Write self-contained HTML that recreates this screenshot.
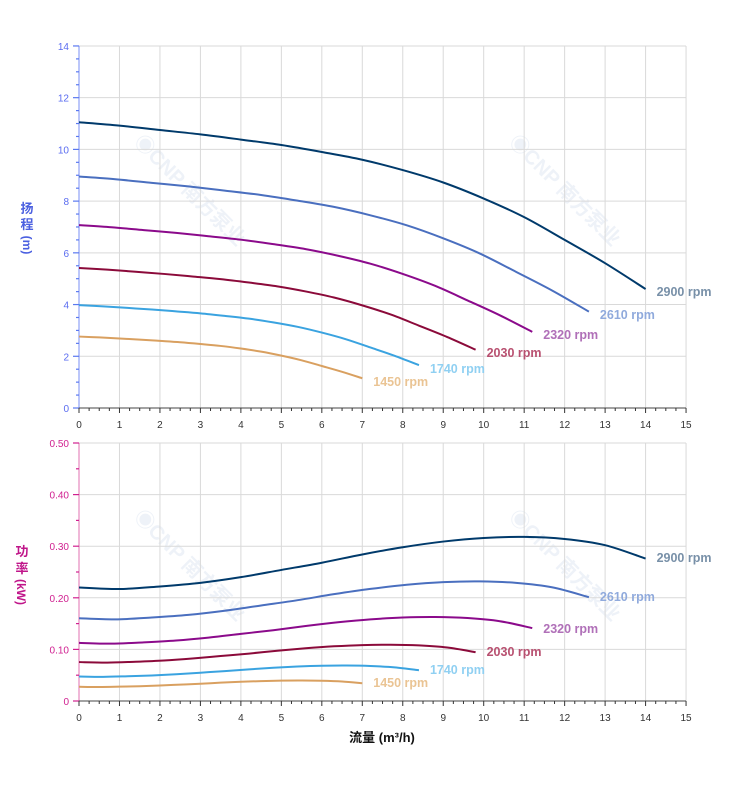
<!DOCTYPE html>
<html><head><meta charset="utf-8"><style>
body{margin:0;background:#fff;}
svg{display:block;font-family:"Liberation Sans","Noto Sans CJK SC",sans-serif;}
</style></head><body>
<svg id="s" width="752" height="797" xmlns="http://www.w3.org/2000/svg"></svg>
<script>
const s=document.getElementById('s');let h='';
const X=q=>79+40.47*q, Y=v=>408-25.86*v, P=p=>701-516*p;
// watermarks
[[185,195],[560,195],[185,570],[560,570]].forEach(([x,y])=>h+=`<text transform="translate(${x},${y}) rotate(45)" font-size="20" font-weight="bold" fill="#eef2f8" text-anchor="middle">◉CNP 南方泵业</text>`);
// grid
for(let i=0;i<=15;i++){h+=`<line x1="${X(i)}" y1="46" x2="${X(i)}" y2="408" stroke="#d9d9d9"/>`;h+=`<line x1="${X(i)}" y1="443" x2="${X(i)}" y2="701" stroke="#d9d9d9"/>`;}
for(let v=0;v<=14;v+=2)h+=`<line x1="79" y1="${Y(v)}" x2="686" y2="${Y(v)}" stroke="#d9d9d9"/>`;
for(let v=0;v<=5;v++)h+=`<line x1="79" y1="${P(v/10)}" x2="686" y2="${P(v/10)}" stroke="#d9d9d9"/>`;
// y axes
h+=`<line x1="79" y1="46" x2="79" y2="408" stroke="#7a8ff5"/>`;
for(let v=0;v<=14;v+=0.5){const big=v%2==0;h+=`<line x1="${big?73:76}" y1="${Y(v)}" x2="79" y2="${Y(v)}" stroke="#5a78f0" stroke-width="1.2"/>`;if(big)h+=`<text x="69" y="${Y(v)+4}" font-size="10" fill="#5a6cf0" text-anchor="end">${v}</text>`;}
h+=`<line x1="79" y1="443" x2="79" y2="701" stroke="#e070b0"/>`;
for(let i=0;i<=10;i++){const v=i/20,big=i%2==0;h+=`<line x1="${big?73:76}" y1="${P(v)}" x2="79" y2="${P(v)}" stroke="#d02090" stroke-width="1.2"/>`;if(big)h+=`<text x="69" y="${P(v)+4}" font-size="10" fill="#d02090" text-anchor="end">${i==0?'0':v.toFixed(2)}</text>`;}
// x axes
[408,701].forEach(y=>{h+=`<line x1="79" y1="${y}" x2="686" y2="${y}" stroke="#444"/>`;for(let i=0;i<=60;i++){const q=i/4;h+=`<line x1="${X(q)}" y1="${y}" x2="${X(q)}" y2="${y+(i%4==0?5:3)}" stroke="#333"/>`;}
for(let i=0;i<=15;i++)h+=`<text x="${X(i)}" y="${y+20}" font-size="10" fill="#333" text-anchor="middle">${i}</text>`;});
// axis titles
h+=`<text x="27" y="213" font-size="13" font-weight="bold" fill="#4a5fe0" text-anchor="middle">扬</text><text x="27" y="229" font-size="13" font-weight="bold" fill="#4a5fe0" text-anchor="middle">程</text><text transform="translate(23,245) rotate(90)" font-size="12" font-weight="bold" fill="#4a5fe0" text-anchor="middle">(m)</text>`;
h+=`<text x="22" y="556" font-size="13" font-weight="bold" fill="#c0168a" text-anchor="middle">功</text><text x="22" y="573" font-size="13" font-weight="bold" fill="#c0168a" text-anchor="middle">率</text><text transform="translate(17,592) rotate(90)" font-size="12" font-weight="bold" fill="#c0168a" text-anchor="middle">(kW)</text>`;
h+=`<text x="382" y="742" font-size="13" font-weight="bold" fill="#111" text-anchor="middle">流量 (m³/h)</text>`;
// curves
const H=[[0,11.05],[1,10.92],[2,10.75],[3,10.58],[4,10.38],[5,10.17],[6,9.9],[7,9.6],[8,9.2],[9,8.72],[10,8.1],[11,7.38],[12,6.5],[13,5.6],[14,4.6]];
const W=[[0,0.22],[1,0.217],[2,0.222],[3,0.229],[4,0.24],[5,0.254],[6,0.268],[7,0.284],[8,0.298],[9,0.309],[10,0.316],[11,0.318],[12,0.314],[13,0.302],[14,0.276]];
const sp=[[2900,'#003a6b','#7890a8'],[2610,'#4a6fbf','#90aadc'],[2320,'#8b0a8b','#b070b8'],[2030,'#8b0a3a','#b85070'],[1740,'#3aa3e0','#90d0f2'],[1450,'#d9a060','#eac494']];
const path=(pts)=>{let d='M'+pts[0][0]+' '+pts[0][1];for(let i=0;i<pts.length-1;i++){const p0=pts[i-1]||pts[i],p1=pts[i],p2=pts[i+1],p3=pts[i+2]||p2;d+=` C${p1[0]+(p2[0]-p0[0])/6} ${p1[1]+(p2[1]-p0[1])/6} ${p2[0]-(p3[0]-p1[0])/6} ${p2[1]-(p3[1]-p1[1])/6} ${p2[0]} ${p2[1]}`;}return d;};
const Ly=[[292,315,335,353,369,382],[558,597,629,652,670,683]];
sp.forEach(([n,c,lc],k)=>{const r=n/2900;
const hp=H.map(([q,v])=>[X(q*r),Y(v*r*r)]);const wp=W.map(([q,v])=>[X(q*r),P(v*r*r*r)]);
h+=`<path d="${path(hp)}" fill="none" stroke="${c}" stroke-width="2"/>`;
h+=`<path d="${path(wp)}" fill="none" stroke="${c}" stroke-width="2"/>`;
const lx=X(14*r)+11;
h+=`<text x="${lx}" y="${Ly[0][k]+4}" font-size="12.5" font-weight="bold" fill="${lc}">${n} rpm</text>`;
h+=`<text x="${lx}" y="${Ly[1][k]+4}" font-size="12.5" font-weight="bold" fill="${lc}">${n} rpm</text>`;});
s.innerHTML=h;
</script>
</body></html>
